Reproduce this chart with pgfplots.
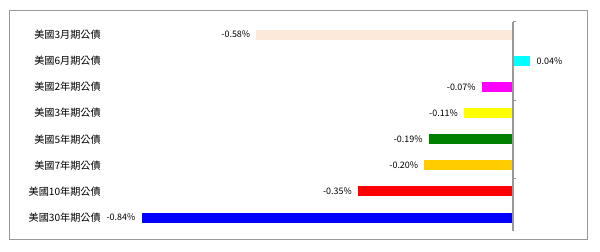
\documentclass[border=0pt]{standalone}
\usepackage{fontspec}
\setmainfont{Noto Sans CJK TC}
\usepackage{pgfplots}
\pgfplotsset{compat=1.18}
\definecolor{c1}{RGB}{253,233,217}
\definecolor{c2}{RGB}{0,255,255}
\definecolor{c3}{RGB}{255,0,255}
\definecolor{c4}{RGB}{255,255,0}
\definecolor{c5}{RGB}{0,128,0}
\definecolor{c6}{RGB}{255,204,0}
\definecolor{c7}{RGB}{255,0,0}
\definecolor{c8}{RGB}{0,0,255}
\begin{document}
\begin{tikzpicture}
\path[use as bounding box] (-86.25pt,-15.3pt) rectangle (363.75pt,172.95pt);
\draw[color=black!40, line width=0.75pt] (-78.75pt,-6.3pt) rectangle (354pt,165.45pt);
\begin{axis}[at={(0,0)}, anchor=south west, scale only axis,
  width=331.5pt, height=156.75pt,
  xmin=-0.9, xmax=0.1, ymin=-0.5, ymax=7.5, y dir=reverse,
  xbar, bar width=7.5pt, bar shift=0pt,
  hide x axis, y axis line style={draw=none},
  ytick={0,...,7}, ytick style={draw=none}, major tick length=0pt,
  yticklabels={美國3月期公債,美國6月期公債,美國2年期公債,美國3年期公債,美國5年期公債,美國7年期公債,美國10年期公債,美國30年期公債},
  yticklabel style={font=\fontsize{7.6}{9}\selectfont, inner sep=0pt, xshift=-10.5pt},
  clip=false,
  nodes near coords={\pgfmathprintnumber{\pgfplotspointmeta}\%},
  every node near coord/.append style={font=\fontsize{6.7}{8}\selectfont, inner sep=0pt, text=black},
  /pgf/number format/.cd, fixed, fixed zerofill, precision=2, assume math mode=true,
]
\addplot[fill=c1, draw=none, every node near coord/.append style={anchor=east, xshift=-4.5pt}] coordinates {(-0.58,0)};
\addplot[fill=c2, draw=none, every node near coord/.append style={anchor=west, xshift=4.5pt}] coordinates {(0.04,1)};
\addplot[fill=c3, draw=none, every node near coord/.append style={anchor=east, xshift=-4.5pt}] coordinates {(-0.07,2)};
\addplot[fill=c4, draw=none, every node near coord/.append style={anchor=east, xshift=-4.5pt}] coordinates {(-0.11,3)};
\addplot[fill=c5, draw=none, every node near coord/.append style={anchor=east, xshift=-4.5pt}] coordinates {(-0.19,4)};
\addplot[fill=c6, draw=none, every node near coord/.append style={anchor=east, xshift=-4.5pt}] coordinates {(-0.20,5)};
\addplot[fill=c7, draw=none, every node near coord/.append style={anchor=east, xshift=-4.5pt}] coordinates {(-0.35,6)};
\addplot[fill=c8, draw=none, every node near coord/.append style={anchor=east, xshift=-4.5pt}] coordinates {(-0.84,7)};
\draw[black!40, line width=1.1pt] (axis cs:0,-0.5) -- (axis cs:0,7.5);
\draw[black!40, line width=0.6pt] (axis cs:0,-0.5) -- ([xshift=2.5pt]axis cs:0,-0.5);
\draw[black!40, line width=0.6pt] (axis cs:0,2.5) -- ([xshift=2.5pt]axis cs:0,2.5);
\draw[black!40, line width=0.6pt] (axis cs:0,5.5) -- ([xshift=2.5pt]axis cs:0,5.5);
\end{axis}
\end{tikzpicture}
\end{document}
